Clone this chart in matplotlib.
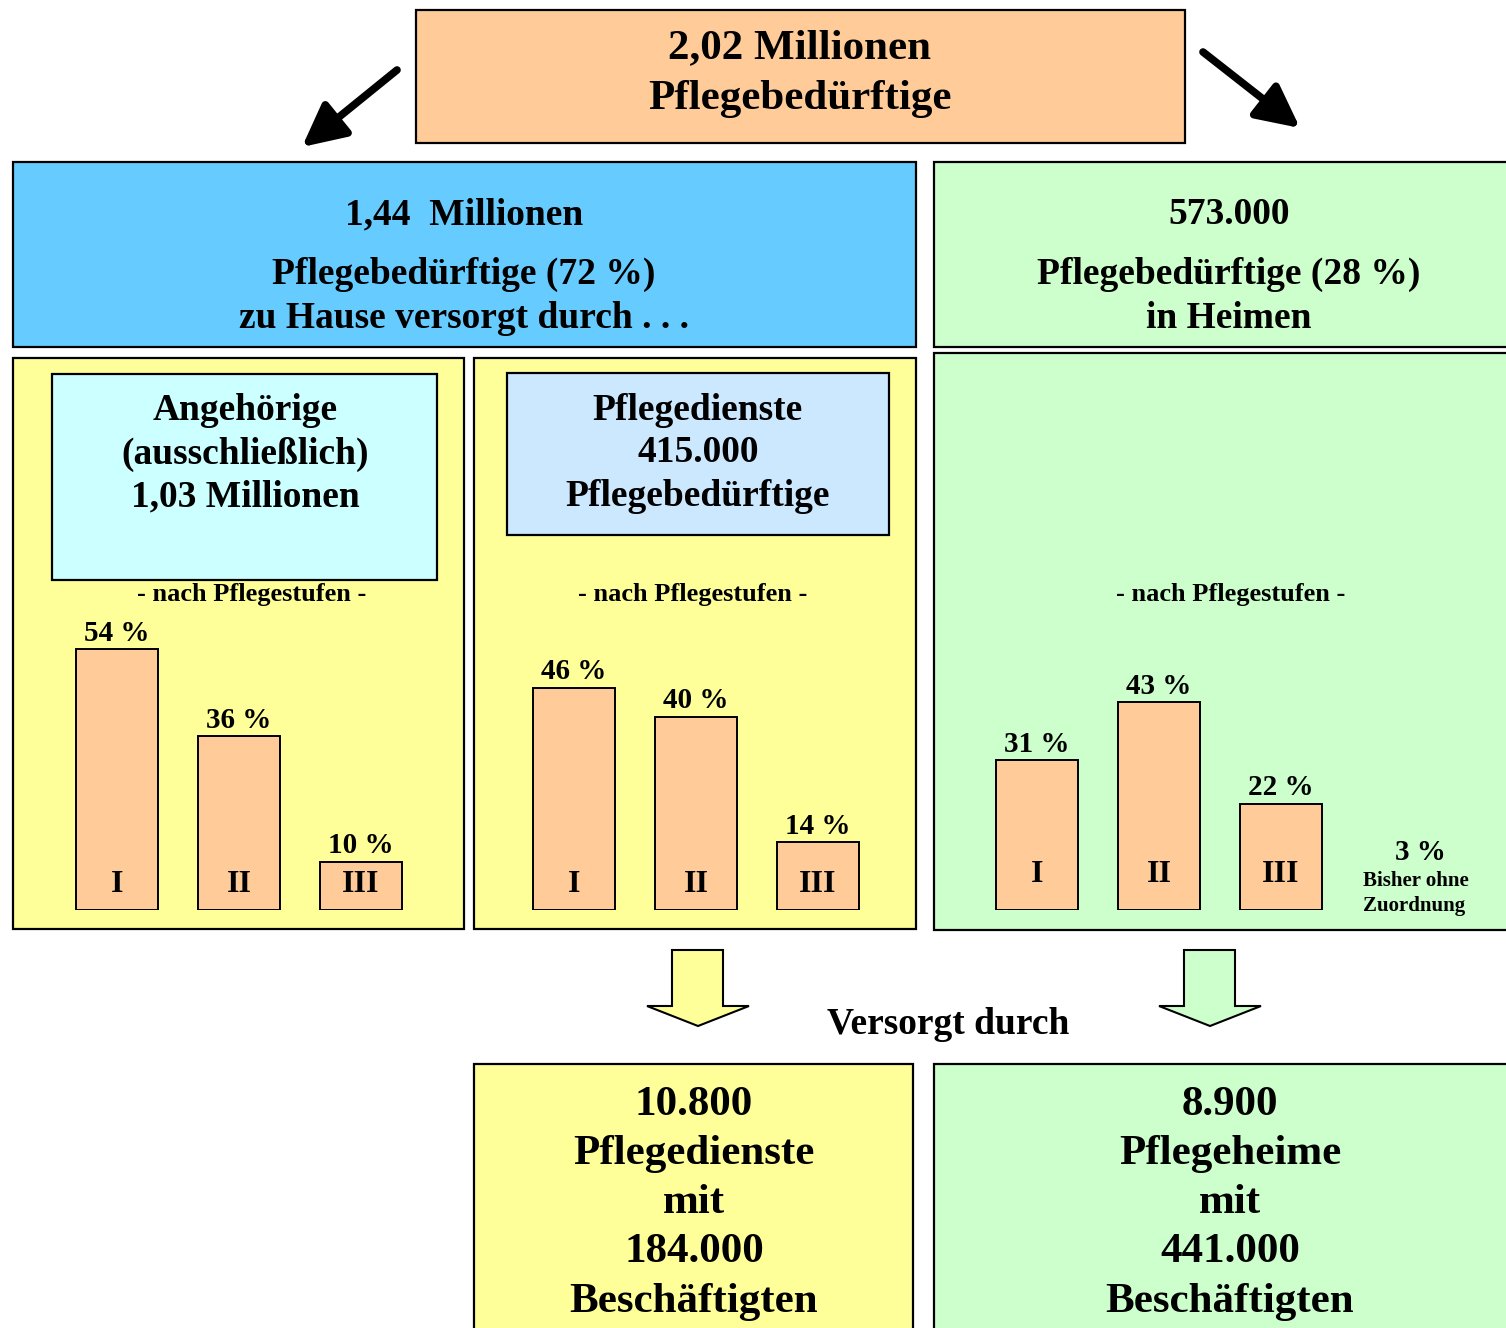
import matplotlib
matplotlib.use("Agg")
import matplotlib.pyplot as plt
from matplotlib.patches import Rectangle, Polygon

# ---- data ----
stufen = ["I", "II", "III"]
angehoerige_pct = [54, 36, 10]
dienste_pct = [46, 40, 14]
heime_pct = [31, 43, 22]
ohne_zuordnung_pct = 3

total_text = ["2,02 Millionen", "Pflegebedürftige"]
home_text = ["1,44  Millionen", "Pflegebedürftige (72 %)", "zu Hause versorgt durch . . ."]
heim_text = ["573.000", "Pflegebedürftige (28 %)", "in Heimen"]
angeh_text = ["Angehörige", "(ausschließlich)", "1,03 Millionen"]
dienst_text = ["Pflegedienste", "415.000", "Pflegebedürftige"]
bottom_dienst = ["10.800", "Pflegedienste", "mit", "184.000", "Beschäftigten"]
bottom_heim = ["8.900", "Pflegeheime", "mit", "441.000", "Beschäftigten"]

W, H = 1506, 1328
FONT = "Liberation Serif"
plt.rcParams["font.family"] = [FONT, "DejaVu Serif"]
plt.rcParams["font.weight"] = "bold"

fig = plt.figure(figsize=(W / 100, H / 100), dpi=100)
ax = fig.add_axes([0, 0, 1, 1])
ax.set_xlim(0, W)
ax.set_ylim(H, 0)
ax.axis("off")

def box(x0, y0, x1, y1, fc, lw=1.6):
    ax.add_patch(Rectangle((x0, y0), x1 - x0, y1 - y0, facecolor=fc,
                           edgecolor="black", linewidth=lw, zorder=1))

def txt(x, y, s, size, **kw):
    ax.text(x, y + 3, s, ha="center", va="center", fontsize=size,
            fontweight="bold", color="black", zorder=5, **kw)

# boxes
box(416, 10, 1185, 143, "#FFCC99")
box(13, 162, 916, 347, "#66CCFF")
box(934, 162, 1510, 347, "#CCFFCC")
box(13, 358, 464, 929, "#FFFF99")
box(52, 374, 437, 580, "#CCFFFF")
box(474, 358, 916, 929, "#FFFF99")
box(507, 373, 889, 535, "#CCE8FF")
box(934, 353, 1510, 930, "#CCFFCC")
box(474, 1064, 913, 1335, "#FFFF99")
box(934, 1064, 1510, 1335, "#CCFFCC")

# black arrows
for start, end in [((397, 70), (302, 147)), ((1203, 52), (1300, 128))]:
    ax.annotate("", xy=end, xytext=start,
                arrowprops=dict(arrowstyle="-|>,head_length=1.3,head_width=0.65",
                                lw=5.5, color="black", mutation_scale=20,
                                shrinkA=0, shrinkB=0))

# block arrows
def block_arrow(cx, fc):
    pts = [(cx - 26, 950), (cx + 25, 950), (cx + 25, 1006), (cx + 51, 1006),
           (cx, 1026), (cx - 51, 1006), (cx - 26, 1006)]
    ax.add_patch(Polygon(pts, closed=True, facecolor=fc, edgecolor="black",
                         linewidth=1.5, zorder=2))
block_arrow(698, "#FFFF99")
block_arrow(1210, "#CCFFCC")

# header texts
txt(800, 45, total_text[0], 31)
txt(800, 96, total_text[1], 31)
for y, s in zip([212, 271, 315], home_text):
    txt(464, y, s, 27)
for y, s in zip([212, 271, 315], heim_text):
    txt(1229, y, s, 27)
for y, s in zip([408, 451, 494], angeh_text):
    txt(245, y, s, 27)
for y, s in zip([407, 450, 494], dienst_text):
    txt(698, y, s, 27)
for x in [252, 693, 1231]:
    txt(x, 592, "- nach Pflegestufen -", 19)

txt(948, 1022, "Versorgt durch", 27)
for y, s in zip([1102, 1151, 1200, 1249, 1299], bottom_dienst):
    txt(694, y, s, 31)
for y, s in zip([1102, 1151, 1200, 1249, 1299], bottom_heim):
    txt(1230, y, s, 31)

txt(1420, 850, f"{ohne_zuordnung_pct} %", 21)
txt(1416, 878, "Bisher ohne", 15)
txt(1414, 903, "Zuordnung", 15)

# bar panels
PX_PER_PCT = 4.83
BASE = 910
YMAX = 60
SPACING = 122
BARW = 82

def bar_panel(c0, values, roman_off):
    left = c0 - SPACING / 2
    width = 3 * SPACING
    top = BASE - YMAX * PX_PER_PCT
    bax = fig.add_axes([left / W, (H - BASE) / H, width / W, (BASE - top) / H])
    bax.set_xlim(-0.5, 2.5)
    bax.set_ylim(0, YMAX)
    bax.axis("off")
    bax.patch.set_alpha(0)
    xs = range(len(values))
    bax.bar(xs, values, width=BARW / SPACING, color="#FFCC99",
            edgecolor="black", linewidth=1.4)
    for x, v, r in zip(xs, values, stufen):
        bax.text(x, v + 16 / PX_PER_PCT, f"{v} %", ha="center", va="center",
                 fontsize=21, fontweight="bold")
        bax.text(x, roman_off / PX_PER_PCT, r, ha="center", va="center",
                 fontsize=23, fontweight="bold")

bar_panel(117, angehoerige_pct, 25)
bar_panel(574, dienste_pct, 25)
bar_panel(1037, heime_pct, 36)

fig.savefig("out.png", dpi=100)
